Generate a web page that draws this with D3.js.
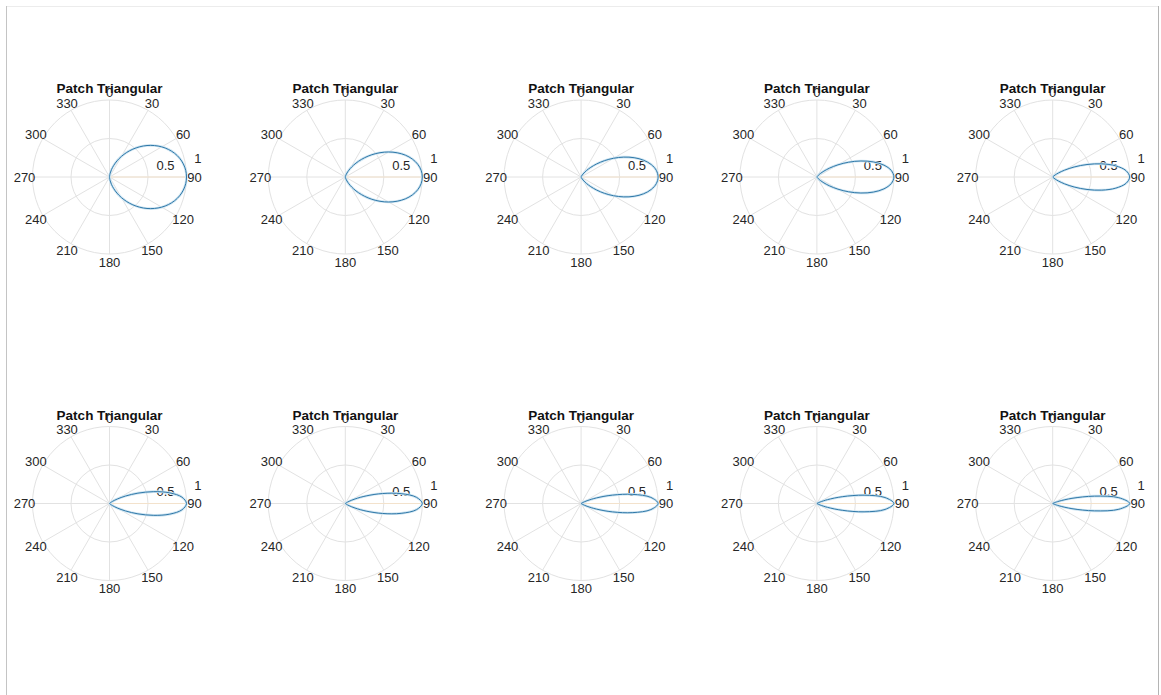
<!DOCTYPE html>
<html>
<head>
<meta charset="utf-8">
<title>Patch Triangular</title>
<style>
  body { margin: 0; background: #fff; }
  text { font-family: "Liberation Sans", Arial, Helvetica, sans-serif; }
</style>
</head>
<body>
<script src="https://cdn.jsdelivr.net/npm/d3@7"></script>
<script>
// angles of the samples, degrees (0 at top, clockwise)
var thetaDeg = [0, 5, 10, 15, 20, 25, 30, 35, 40, 45, 50, 55, 60, 65, 70, 75, 80, 85, 90,
                95, 100, 105, 110, 115, 120, 125, 130, 135, 140, 145, 150, 155, 160, 165, 170, 175, 180];

// normalised pattern for each subplot
var pattern1 = [0, .016, .051, .100, .161, .231, .308, .389, .472, .555, .636, .712, .783, .846, .900, .943, .974, .994, 1,
                .994, .974, .943, .900, .846, .783, .712, .636, .555, .472, .389, .308, .231, .161, .100, .051, .016, 0];
var pattern2 = [0, .001, .005, .017, .040, .075, .125, .189, .266, .354, .450, .550, .650, .744, .830, .901, .955, .989, 1,
                .989, .955, .901, .830, .744, .650, .550, .450, .354, .266, .189, .125, .075, .040, .017, .005, .001, 0];
var pattern3 = [0, 0, 0, .001, .005, .013, .031, .062, .110, .177, .264, .369, .487, .611, .733, .841, .926, .981, 1,
                .981, .926, .841, .733, .611, .487, .369, .264, .177, .110, .062, .031, .013, .005, .001, 0, 0, 0];
var pattern4 = [0, 0, 0, 0, 0, .001, .004, .012, .029, .063, .119, .203, .316, .455, .608, .758, .885, .970, 1,
                .970, .885, .758, .608, .455, .316, .203, .119, .063, .029, .012, .004, .001, 0, 0, 0, 0, 0];
var pattern5 = [0, 0, 0, 0, 0, 0, 0, .001, .005, .016, .041, .091, .178, .307, .474, .660, .832, .955, 1,
                .955, .832, .660, .474, .307, .178, .091, .041, .016, .005, .001, 0, 0, 0, 0, 0, 0, 0];
var pattern6 = [0, 0, 0, 0, 0, 0, 0, 0, .001, .006, .018, .050, .116, .229, .393, .595, .795, .944, 1,
                .944, .795, .595, .393, .229, .116, .050, .018, .006, .001, 0, 0, 0, 0, 0, 0, 0, 0];
var pattern7 = [0, 0, 0, 0, 0, 0, 0, 0, 0, .001, .005, .018, .056, .140, .288, .500, .736, .927, 1,
                .927, .736, .500, .288, .140, .056, .018, .005, .001, 0, 0, 0, 0, 0, 0, 0, 0, 0];
var pattern8 = [0, 0, 0, 0, 0, 0, 0, 0, 0, 0, .001, .007, .027, .086, .211, .420, .682, .909, 1,
                .909, .682, .420, .211, .086, .027, .007, .001, 0, 0, 0, 0, 0, 0, 0, 0, 0, 0];
var pattern9 = [0, 0, 0, 0, 0, 0, 0, 0, 0, 0, 0, .002, .012, .047, .145, .341, .622, .888, 1,
                .888, .622, .341, .145, .047, .012, .002, 0, 0, 0, 0, 0, 0, 0, 0, 0, 0, 0];
var pattern10 = [0, 0, 0, 0, 0, 0, 0, 0, 0, 0, 0, 0, .004, .022, .088, .259, .550, .862, 1,
                 .862, .550, .259, .088, .022, .004, 0, 0, 0, 0, 0, 0, 0, 0, 0, 0, 0, 0];

var patterns = [pattern1, pattern2, pattern3, pattern4, pattern5,
                pattern6, pattern7, pattern8, pattern9, pattern10];
var title = "Patch Triangular";
var thetaTicks = [0, 30, 60, 90, 120, 150, 180, 210, 240, 270, 300, 330];
var rTicks = [0.5, 1];

var W = 1161, H = 695,
    R = 77,
    x0 = 109.5, dx = 235.8,
    y0 = 177, dy = 326.5;

var svg = d3.select("body").append("svg")
    .attr("width", W)
    .attr("height", H);

// window frame
svg.append("line").attr("x1", 6).attr("x2", 1158).attr("y1", 6.5).attr("y2", 6.5)
    .attr("stroke", "#ececec");
svg.append("line").attr("x1", 6.5).attr("x2", 6.5).attr("y1", 6).attr("y2", H)
    .attr("stroke", "#c4c4c4");
svg.append("line").attr("x1", 1158.5).attr("x2", 1158.5).attr("y1", 6).attr("y2", H)
    .attr("stroke", "#b4b4b4");

var r = d3.scaleLinear().domain([0, 1]).range([0, R]);
var rad = function(d) { return d * Math.PI / 180; };

var line = d3.lineRadial()
    .angle(function(d, i) { return rad(thetaDeg[i]); })
    .radius(function(d) { return r(d); })
    .curve(d3.curveCatmullRom.alpha(0.5));

patterns.forEach(function(p, k) {
    var cx = x0 + (k % 5) * dx,
        cy = y0 + Math.floor(k / 5) * dy;
    var g = svg.append("g").attr("transform", "translate(" + cx + "," + cy + ")");

    // grid circles
    g.selectAll("circle.grid")
        .data(rTicks)
        .enter().append("circle")
            .attr("class", "grid")
            .attr("r", function(d) { return r(d); })
            .attr("fill", "none")
            .attr("stroke", "#e2e2e2")
            .attr("stroke-width", 1);

    // spokes
    g.selectAll("line.spoke")
        .data(thetaTicks)
        .enter().append("line")
            .attr("class", "spoke")
            .attr("x1", 0).attr("y1", 0)
            .attr("x2", function(d) { return r(1) * Math.sin(rad(d)); })
            .attr("y2", function(d) { return -r(1) * Math.cos(rad(d)); })
            .attr("stroke", "#e2e2e2")
            .attr("stroke-width", 1);

    // faint second trace along 90 deg
    g.append("line")
        .attr("x1", 0).attr("y1", 0)
        .attr("x2", r(1)).attr("y2", 0)
        .attr("stroke", "#f3e2cc")
        .attr("stroke-width", 1);

    // title
    g.append("text")
        .attr("x", 0).attr("y", -84)
        .attr("text-anchor", "middle")
        .attr("font-size", "13.5px")
        .attr("font-weight", "bold")
        .attr("fill", "#111")
        .text(title);

    // theta labels
    g.selectAll("text.theta")
        .data(thetaTicks)
        .enter().append("text")
            .attr("class", "theta")
            .attr("x", function(d) { return 85 * Math.sin(rad(d)); })
            .attr("y", function(d) { return -85 * Math.cos(rad(d)); })
            .attr("dy", "0.35em")
            .attr("text-anchor", "middle")
            .attr("font-size", "13px")
            .attr("fill", "#262626")
            .text(function(d) { return d; });

    // r labels along 80 deg
    g.selectAll("text.rtick")
        .data(rTicks)
        .enter().append("text")
            .attr("class", "rtick")
            .attr("x", function(d) { return r(d) * Math.sin(rad(80)) + 9; })
            .attr("y", function(d) { return -r(d) * Math.cos(rad(80)) - 0.5; })
            .attr("font-size", "13px")
            .attr("fill", "#262626")
            .text(function(d) { return d; });

    // pattern
    g.append("path")
        .datum(p)
        .attr("d", line)
        .attr("fill", "none")
        .attr("stroke", "#cfe5f2")
        .attr("stroke-width", 2.6);
    g.append("path")
        .datum(p)
        .attr("d", line)
        .attr("fill", "none")
        .attr("stroke", "#2f78a8")
        .attr("stroke-width", 1);
});
</script>
</body>
</html>
